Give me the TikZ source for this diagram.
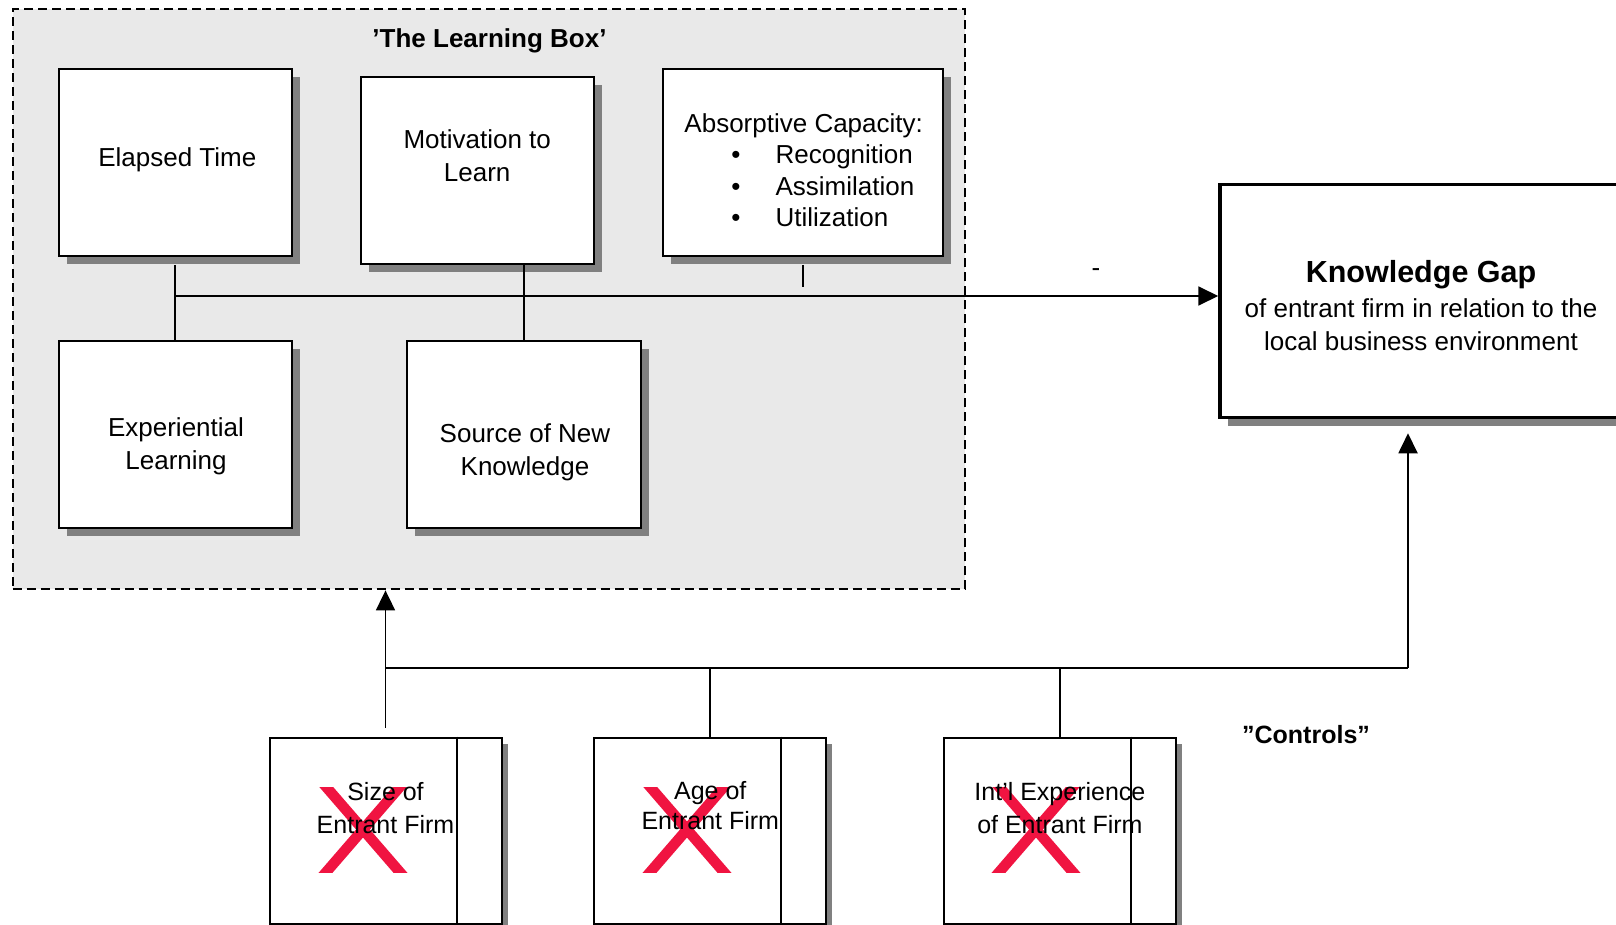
\documentclass[tikz,border=0pt]{standalone}
\usepackage{fontspec}
\setmainfont{Liberation Sans}
\usetikzlibrary{positioning, arrows.meta, shadows}

\definecolor{boxgray}{RGB}{233,233,233}
\definecolor{shadowgray}{RGB}{128,128,128}
\definecolor{crossred}{RGB}{240,20,65}

\begin{document}
\begin{tikzpicture}[x=1pt, y=-1pt,
    every node/.style={font=\fontsize{26}{33}\selectfont},
    factor/.style={draw, line width=2pt, fill=white, minimum width=233pt, minimum height=187pt,
      general shadow={fill=shadowgray, shadow xshift=8pt, shadow yshift=-8pt}},
    control/.style={draw, line width=2pt, fill=white, minimum width=232pt, minimum height=186pt,
      general shadow={fill=shadowgray, shadow xshift=6pt, shadow yshift=-6pt}},
    txt/.style={align=center},
    conn/.style={line width=1.8pt},
    arr/.style={conn, -{Triangle[length=20pt,width=19pt]}}]

    % Page
    \useasboundingbox (0,0) rectangle (1616,925);
    \clip (0,0) rectangle (1616,925);

    % The learning box
    \node[draw, dash pattern=on 9pt off 5pt, line width=2pt, fill=boxgray,
      minimum width=952pt, minimum height=580pt] (learnbox) at (488.5,299.4) {};
    \node[font=\fontsize{26}{33}\selectfont\bfseries] (title) at (489.5,41) {'The Learning Box'};

    % Factors
    \node[factor] (elapsed) at (175.2,162.3) {};
    \node[factor] (motiv) at (477.2,170.5) {};
    \node[factor, minimum width=280pt] (absorb) at (802.9,162.3) {};
    \node[factor] (exper) at (175.2,434.4) {};
    \node[factor, minimum width=234pt] (source) at (524,434.4) {};

    \node[txt] (elapsedtxt) at (177.3,160) {Elapsed Time};
    \node[txt] (motivtxt) at (477.2,156) {Motivation to\\Learn};
    \node[align=left, font=\fontsize{26}{31.5}\selectfont] (absorbtxt) at (803.7,170) {Absorptive Capacity:\\
      \hspace*{47pt}\textbullet\hspace*{35pt}Recognition\\
      \hspace*{47pt}\textbullet\hspace*{35pt}Assimilation\\
      \hspace*{47pt}\textbullet\hspace*{35pt}Utilization};
    \node[txt] (expertxt) at (176,446) {Experiential\\Learning};
    \node[txt] (sourcetxt) at (525,452) {Source of New\\Knowledge};

    % Knowledge gap
    \node[draw, line width=3.5pt, fill=white, minimum width=410pt, minimum height=233pt,
      general shadow={fill=shadowgray, shadow xshift=8pt, shadow yshift=-8pt}] (gap) at (1425,301) {};
    \node[txt] (gaptxt) at (1421,305.5)
      {{\fontsize{30.5}{36}\selectfont\bfseries Knowledge Gap}\\[2pt]
       of entrant firm in relation to the\\local business environment};

    % Learning box connectors
    \coordinate (hub) at (175.2,296);
    \draw[conn] ([yshift=-8pt]elapsed.south) -- (exper.north);
    \draw[conn] (source.north |- motiv.south) -- (source.north);
    \draw[conn] ([yshift=-8pt]absorb.south) -- ++(0,22.5);
    \draw[arr] (hub) -- (hub -| gap.west);
    \node (minus) at (1096,273) {-};

    % Controls
    \foreach \nm/\cx/\lbl in {size/385.5/{Size of\\Entrant Firm},
                              age/710.3/{Age of\\Entrant Firm},
                              intl/1059.9/{Int’l Experience\\of Entrant Firm}} {
      \node[control] (\nm) at (\cx,830.5) {};
      \draw[line width=2pt] ([xshift=-46pt]\nm.north east) -- ([xshift=-46pt]\nm.south east);
    }

    % Red crosses
    \foreach \xc in {363, 687, 1036} {
      \begin{scope}
        \clip (\xc-60,787) rectangle (\xc+60,872);
        \draw[crossred, line width=10.5pt] ({\xc-44.1},778.5) -- ({\xc+44.1},880.5);
        \draw[crossred, line width=10.5pt] ({\xc+44.1},778.5) -- ({\xc-44.1},880.5);
      \end{scope}
    }

    % Control labels
    \node[txt, font=\fontsize{25}{33}\selectfont] (sizetxt) at (385.5,808) {Size of\\Entrant Firm};
    \node[txt, font=\fontsize{25}{30}\selectfont] (agetxt) at (710.3,806) {Age of\\Entrant Firm};
    \node[txt, font=\fontsize{25}{33}\selectfont] (intltxt) at (1059.9,808) {Int’l Experience\\of Entrant Firm};

    % Control connectors
    \coordinate (sizetop) at ([yshift=9pt]size.north);
    \coordinate (busR) at (1408,668);
    \draw[arr] (sizetop) -- (sizetop |- learnbox.south);
    \draw[conn] (sizetop |- busR) -- (busR);
    \draw[conn] (age.north) -- (age.north |- busR);
    \draw[conn] (intl.north) -- (intl.north |- busR);
    \draw[arr, shorten >=14pt] (busR) -- (busR |- gap.south);

    \node[font=\fontsize{25}{33}\selectfont\bfseries] (controls) at (1306,735) {”Controls”};

\end{tikzpicture}
\end{document}
